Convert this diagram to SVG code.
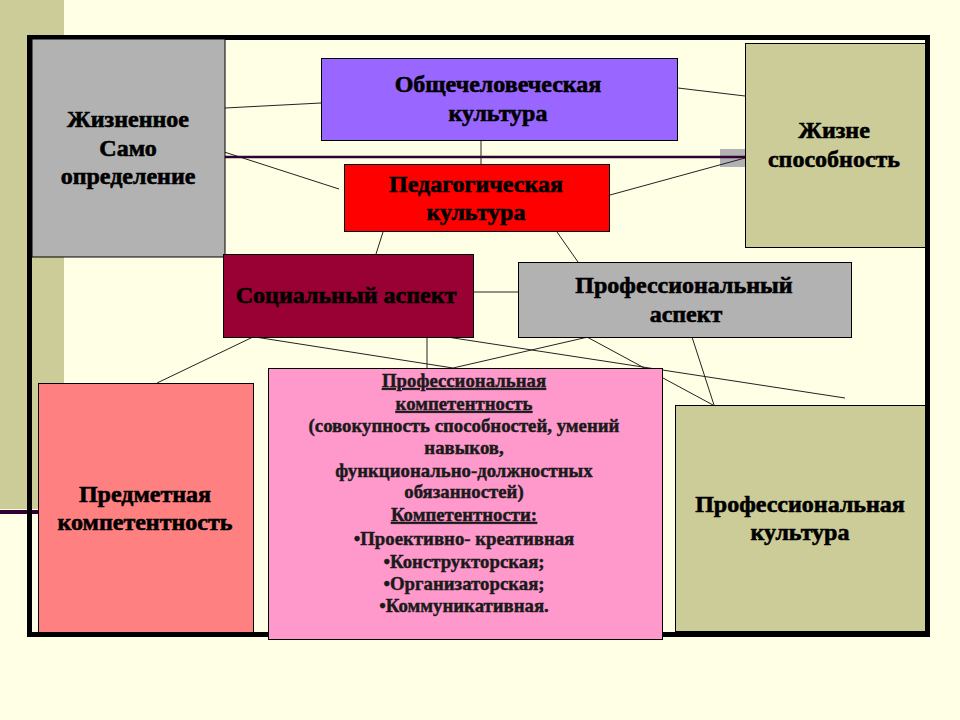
<svg xmlns="http://www.w3.org/2000/svg" width="960" height="720" viewBox="0 0 960 720">
<style>
.t{font-family:'Liberation Serif','DejaVu Serif',serif;font-weight:bold;font-size:24px;text-anchor:middle;fill:#000;stroke:#000;stroke-width:0.6}
.p{font-family:'Liberation Serif','DejaVu Serif',serif;font-weight:bold;font-size:18.8px;text-anchor:middle;fill:#1a1a1a;stroke:#1a1a1a;stroke-width:0.45}
.u{text-decoration:underline}
.box{stroke:#000;stroke-width:1}
.c line{stroke:#222;stroke-width:1}
</style>
<rect width="960" height="720" fill="#FFFFE6"/>
<rect x="0" y="0" width="64" height="509" fill="#CCCC99"/>
<line x1="0" y1="512" x2="40" y2="512" stroke="#330033" stroke-width="4"/>
<rect x="29.5" y="37.5" width="898" height="597" fill="none" stroke="#000" stroke-width="5"/>
<rect x="720" y="149" width="25" height="18" fill="#B2B2B2"/>
<g id="connectors" class="c">
<line x1="225" y1="108" x2="321" y2="103"/>
<line x1="218" y1="150" x2="339" y2="189"/>
<line x1="678" y1="88" x2="745" y2="96"/>
<line x1="225" y1="157" x2="745" y2="157" style="stroke:#330033;stroke-width:2.5"/>
<line x1="481" y1="136" x2="481" y2="164"/>
<line x1="610" y1="195" x2="745" y2="158"/>
<line x1="383" y1="232" x2="376" y2="254"/>
<line x1="557" y1="232" x2="578" y2="262"/>
<line x1="457" y1="292" x2="518" y2="292"/>
<line x1="253" y1="337" x2="157" y2="383"/>
<line x1="255" y1="337" x2="453" y2="368"/>
<line x1="453" y1="368" x2="588" y2="337"/>
<line x1="427" y1="337" x2="427" y2="368"/>
<line x1="447" y1="337" x2="845" y2="398"/>
<line x1="587" y1="337" x2="713" y2="405"/>
<line x1="692" y1="337" x2="714" y2="405"/>
</g>
<g id="n-zhiznennoe">
<rect class="box" x="32" y="39" width="193" height="218" fill="#B2B2B2"/>
<text class="t" x="128" y="127">Жизненное</text>
<text class="t" x="128" y="156">Само</text>
<text class="t" x="128" y="184">определение</text>
</g>
<g id="n-obshche">
<rect class="box" x="321.5" y="58.5" width="356" height="82" fill="#9966FF"/>
<text class="t" x="498" y="92">Общечеловеческая</text>
<text class="t" x="498" y="121">культура</text>
</g>
<g id="n-ped">
<rect class="box" x="344.5" y="164.5" width="265" height="67" fill="#FF0000"/>
<text class="t" x="476" y="192">Педагогическая</text>
<text class="t" x="476" y="220">культура</text>
</g>
<g id="n-zhizne">
<rect class="box" x="745.5" y="43.5" width="180" height="204" fill="#CCCC99"/>
<text class="t" x="834" y="138">Жизне</text>
<text class="t" x="834" y="167">способность</text>
</g>
<g id="n-social">
<rect class="box" x="223.5" y="254.5" width="250" height="83" fill="#990033"/>
<text class="t" x="346" y="303">Социальный аспект</text>
</g>
<g id="n-profaspect">
<rect class="box" x="518.5" y="262.5" width="333" height="75" fill="#B2B2B2"/>
<text class="t" x="684" y="293">Профессиональный</text>
<text class="t" x="686" y="322">аспект</text>
</g>
<g id="n-predmet">
<rect class="box" x="38.5" y="383.5" width="215" height="249" fill="#FF8080"/>
<text class="t" x="145" y="502">Предметная</text>
<text class="t" x="145" y="530">компетентность</text>
</g>
<g id="n-profkomp">
<rect class="box" x="268.5" y="368.5" width="394" height="271" fill="#FF99CC"/>
<text class="p u" x="464" y="387">Профессиональная</text>
<text class="p u" x="464" y="410">компетентность</text>
<text class="p" x="464" y="432">(совокупность способностей, умений</text>
<text class="p" x="464" y="454">навыков,</text>
<text class="p" x="464" y="477">функционально-должностных</text>
<text class="p" x="464" y="498">обязанностей)</text>
<text class="p u" x="464" y="521">Компетентности:</text>
<text class="p" x="464" y="545">•Проективно- креативная</text>
<text class="p" x="464" y="568">•Конструкторская;</text>
<text class="p" x="464" y="590">•Организаторская;</text>
<text class="p" x="464" y="612">•Коммуникативная.</text>
</g>
<g id="n-profkult">
<rect class="box" x="675.5" y="405.5" width="250" height="226" fill="#CCCC99"/>
<text class="t" x="800" y="512">Профессиональная</text>
<text class="t" x="800" y="540">культура</text>
</g>
</svg>
